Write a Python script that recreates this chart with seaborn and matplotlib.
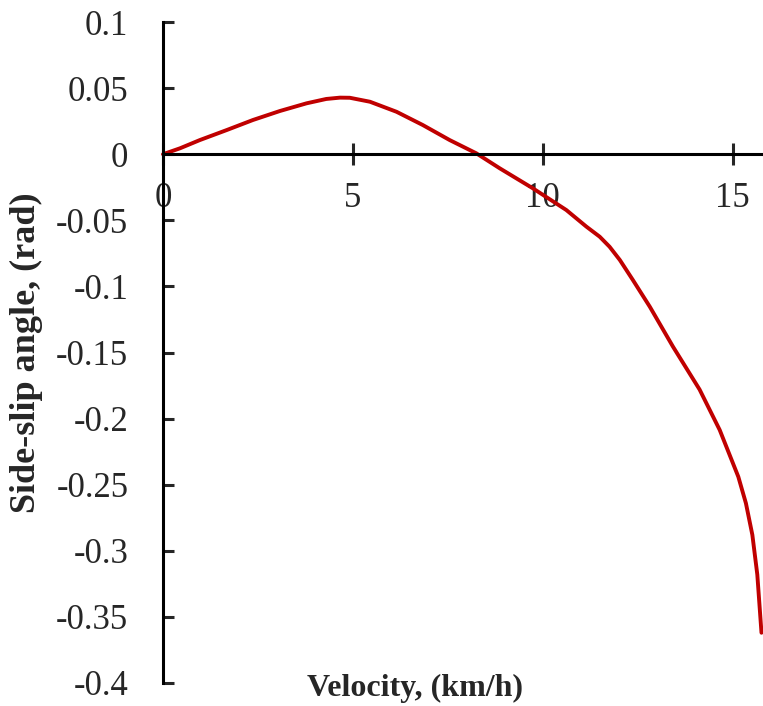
import matplotlib
matplotlib.use('Agg')
import matplotlib.pyplot as plt
import pandas as pd
import seaborn as sns

# velocidad (km/h) y angulo de deriva (rad)
velocity = [0, 0.45, 0.97, 1.68, 2.37, 3.08, 3.78, 4.30, 4.66, 4.92, 5.45,
            6.15, 6.84, 7.55, 8.25, 8.87, 9.74, 10.62, 11.15, 11.50, 11.76,
            12.03, 12.37, 12.82, 13.43, 14.13, 14.66, 15.15, 15.35, 15.52,
            15.65, 15.76]
sideslip = [0, 0.0045, 0.0107, 0.0183, 0.0259, 0.0327, 0.0385, 0.0418, 0.0428,
            0.0427, 0.0397, 0.0321, 0.0221, 0.0107, 0.0007, -0.0107, -0.0258,
            -0.0422, -0.0548, -0.0624, -0.070, -0.080, -0.095, -0.1154, -0.1456,
            -0.178, -0.2086, -0.244, -0.264, -0.288, -0.318, -0.362]
xticks = [0, 5, 10, 15]
yticks = [0.1, 0.05, 0, -0.05, -0.1, -0.15, -0.2, -0.25, -0.3, -0.35, -0.4]
ytick_labels = ['0.1', '0.05', '0', '-0.05', '-0.1', '-0.15', '-0.2',
                '-0.25', '-0.3', '-0.35', '-0.4']

df = pd.DataFrame({'velocity': velocity, 'sideslip': sideslip})

sns.set_style("white")
plt.rcParams['font.family'] = ['Liberation Serif', 'DejaVu Serif']

fig = plt.figure(figsize=(7.63, 7.06), dpi=100)
ax = fig.add_axes([0.2136, 0.0326, 0.7864, 0.9362])

sns.lineplot(data=df, x='velocity', y='sideslip', color='#C00000',
             linewidth=2.8, ax=ax, clip_on=False)

ax.set_xlim(0, 15.8)
ax.set_ylim(-0.4, 0.1)

ax.spines['right'].set_visible(False)
ax.spines['top'].set_visible(False)
ax.spines['bottom'].set_position(('data', 0))
ax.spines['bottom'].set_linewidth(2.2)
ax.spines['left'].set_linewidth(2.2)
ax.spines['bottom'].set_color('black')
ax.spines['left'].set_color('black')

ax.set_xticks(xticks)
ax.set_xticklabels([str(t) for t in xticks])
ax.set_yticks(yticks)
ax.set_yticklabels(ytick_labels)

ax.tick_params(axis='x', direction='inout', length=16, width=2.2,
               labelsize=25, pad=12, bottom=True)
ax.tick_params(axis='y', direction='in', length=8, width=2.2,
               labelsize=25, pad=25, left=True)

ax.set_xlabel('Velocity, (km/h)', fontsize=23, fontweight='bold')
ax.xaxis.set_label_coords(0.42, -0.008)
ax.xaxis.label.set_va('center')
ax.set_ylabel('Side-slip angle, (rad)', fontsize=26, fontweight='bold')
ax.yaxis.set_label_coords(-0.227, 0.5)
ax.yaxis.label.set_va('center')

plt.savefig('out.png', dpi=100)
